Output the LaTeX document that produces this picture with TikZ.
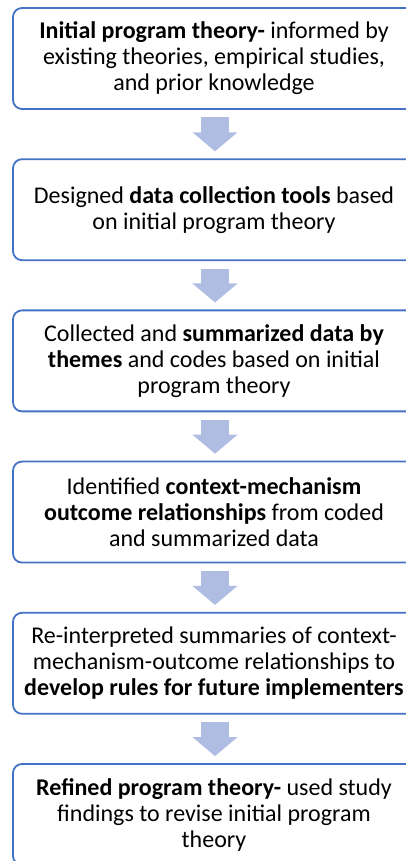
\documentclass[tikz,border=0pt]{standalone}
\usepackage{fontspec}
\setmainfont{Carlito}
\usetikzlibrary{calc,arrows.meta}
\definecolor{boxblue}{RGB}{68,114,196}
\definecolor{arrowblue}{RGB}{175,189,226}
\tikzset{
  stagebox/.style={draw=boxblue, line width=1.8pt, fill=white, rounded corners=9pt,
    minimum width=402pt, minimum height=101pt, inner sep=0pt, align=center,
    font=\fontsize{24pt}{26pt}\selectfont, text=black},
  flowarrow/.style={draw=arrowblue, line width=28pt,
    -{Triangle[width=44pt,length=19pt,fill=arrowblue]}}
}
\begin{document}
\begin{tikzpicture}[x=1pt,y=1pt]
\useasboundingbox (0,0) rectangle (406,861);
\clip (0,0) rectangle (406,861);
\fill[white] (0,0) rectangle (406,861);
\node[stagebox] (b1) at (214,802.5) {\textbf{Initial program theory-} informed by\\existing theories, empirical studies,\\and prior knowledge};
\node[stagebox] (b2) at (214,651.3) {Designed \textbf{data collection tools} based\\on initial program theory};
\node[stagebox] (b3) at (214,500.1) {Collected and \textbf{summarized data by}\\\textbf{themes} and codes based on initial\\program theory};
\node[stagebox] (b4) at (214,348.9) {Identified \textbf{context-mechanism}\\\textbf{outcome relationships} from coded\\and summarized data};
\node[stagebox] (b5) at (214,197.7) {Re-interpreted summaries of context-\\mechanism-outcome relationships to\\\textbf{develop rules for future implementers}};
\node[stagebox] (b6) at (214,46.5) {\textbf{Refined program theory-} used study\\findings to revise initial program\\theory};
\foreach \a/\b in {b1/b2,b2/b3,b3/b4,b4/b5,b5/b6}{
  \draw[flowarrow] ($(\a.south)+(1,-7.5)$) -- ($(\b.north)+(1,7)$);
}
\end{tikzpicture}
\end{document}
